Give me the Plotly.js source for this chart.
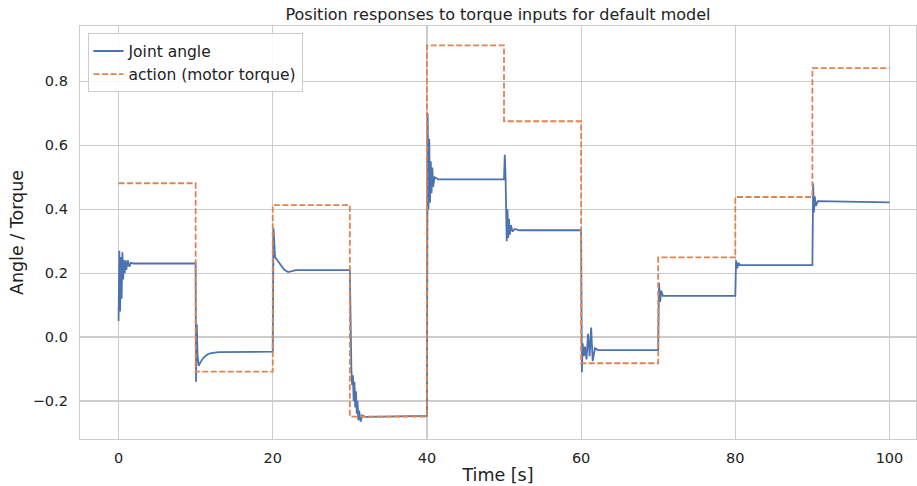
<!DOCTYPE html>
<html>
<head>
<meta charset="utf-8">
<script src="https://cdn.plot.ly/plotly-3.0.1.min.js"></script>
<style>html,body{margin:0;padding:0;background:#fff}#chart{width:917px;height:486px}</style>
</head>
<body>
<div id="chart"></div>
<script>
// Action (motor torque), one value per 10 s step
const torqueTime = [0, 10, 20, 30, 40, 50, 60, 70, 80, 90, 100];
const torqueValue = [0.481, -0.108, 0.4125, -0.249, 0.9125, 0.675, -0.082, 0.249, 0.438, 0.841, 0.841];

// Joint angle response (including transients)
const angleTime = [
  0, 0.1, 0.2, 0.3, 0.4, 0.5, 0.6, 0.7, 0.8, 0.9, 1.0, 1.2, 1.4, 1.6, 2, 10,
  10.05, 10.15, 10.25, 10.4, 10.6, 11, 11.5, 12, 13, 20,
  20.1, 20.3, 20.6, 21, 21.5, 22, 22.5, 23, 30,
  30.05, 30.2, 30.3, 30.4, 30.5, 30.6, 30.7, 30.8, 30.9, 31.0, 31.1, 31.2, 31.4, 31.6, 32, 40,
  40.1, 40.2, 40.3, 40.4, 40.5, 40.6, 40.7, 40.8, 41, 41.5, 50,
  50.1, 50.2, 50.35, 50.45, 50.55, 50.65, 50.75, 50.9, 51.1, 51.4, 52, 60,
  60.1, 60.2, 60.35, 60.5, 60.7, 60.9, 61.1, 61.3, 61.5, 61.8, 62.2, 70,
  70.1, 70.25, 70.4, 70.6, 80,
  80.1, 80.25, 80.4, 80.6, 90,
  90.1, 90.2, 90.3, 90.45, 90.7, 100
];
const angleValue = [
  0.05, 0.27, 0.08, 0.25, 0.12, 0.265, 0.18, 0.24, 0.2, 0.24, 0.21, 0.24, 0.22, 0.232, 0.23, 0.23,
  -0.14, 0.04, -0.06, -0.09, -0.08, -0.065, -0.055, -0.05, -0.047, -0.046,
  0.34, 0.25, 0.24, 0.225, 0.21, 0.203, 0.207, 0.209, 0.209,
  0.07, -0.1, -0.15, -0.12, -0.2, -0.14, -0.22, -0.17, -0.24, -0.2, -0.26, -0.23, -0.265, -0.245, -0.25, -0.247,
  0.70, 0.40, 0.62, 0.42, 0.55, 0.45, 0.53, 0.47, 0.50, 0.493, 0.493,
  0.57, 0.50, 0.30, 0.40, 0.31, 0.37, 0.32, 0.35, 0.33, 0.338, 0.334, 0.334,
  -0.11, -0.02, -0.06, -0.03, -0.07, 0.01, -0.06, 0.03, -0.075, -0.035, -0.041, -0.041,
  0.17, 0.11, 0.145, 0.129, 0.129,
  0.24, 0.215, 0.232, 0.225, 0.225,
  0.48, 0.39, 0.44, 0.41, 0.425, 0.421
];

const xTicks = [0, 20, 40, 60, 80, 100];
const yTicks = [-0.2, 0.0, 0.2, 0.4, 0.6, 0.8];
const yTickText = ['\u22120.2', '0.0', '0.2', '0.4', '0.6', '0.8'];

const font = 'DejaVu Sans, sans-serif';
const ink = '#222222';
const traces = [
  {x: angleTime, y: angleValue, type: 'scatter', mode: 'lines', name: 'Joint angle',
   line: {color: '#4c72b0', width: 1.8}},
  {x: torqueTime, y: torqueValue, type: 'scatter', mode: 'lines', name: 'action (motor torque)',
   line: {color: '#dd8452', width: 1.8, dash: '6px,2.5px', shape: 'hv'}}
];
const layout = {
  width: 917, height: 486,
  margin: {l: 80, r: 1, t: 25.5, b: 47},
  paper_bgcolor: '#fff', plot_bgcolor: '#fff',
  font: {family: font, color: ink, size: 14},
  title: {text: 'Position responses to torque inputs for default model',
          font: {family: font, size: 16, color: ink}, x: 0.5, xref: 'paper',
          y: 0.971, yref: 'container', yanchor: 'middle'},
  xaxis: {range: [-5, 103.44], tickvals: xTicks, ticktext: xTicks.map(String),
          showgrid: true, gridcolor: '#cccccc', gridwidth: 1.2, zeroline: false,
          showline: true, linecolor: '#cccccc', linewidth: 1.2, mirror: true,
          ticks: 'outside', ticklen: 5, tickcolor: 'rgba(0,0,0,0)',
          tickfont: {size: 14.5, color: ink},
          title: {text: 'Time [s]', font: {size: 17.5, color: ink}, standoff: 4}},
  yaxis: {range: [-0.319, 0.973], tickvals: yTicks, ticktext: yTickText,
          showgrid: true, gridcolor: '#cccccc', gridwidth: 1.2, zeroline: false,
          showline: true, linecolor: '#cccccc', linewidth: 1.2, mirror: true,
          ticks: 'outside', ticklen: 8, tickcolor: 'rgba(0,0,0,0)',
          tickfont: {size: 14.5, color: ink},
          title: {text: 'Angle / Torque', font: {size: 17.5, color: ink}, standoff: 4}},
  showlegend: true,
  legend: {x: 0.009, y: 0.982, xanchor: 'left', yanchor: 'top',
           bgcolor: 'rgba(255,255,255,0.85)', bordercolor: '#cccccc', borderwidth: 1,
           font: {size: 15.5, color: ink}, tracegroupgap: 0}
};
Plotly.newPlot('chart', traces, layout, {staticPlot: true, displayModeBar: false});
</script>
</body>
</html>
